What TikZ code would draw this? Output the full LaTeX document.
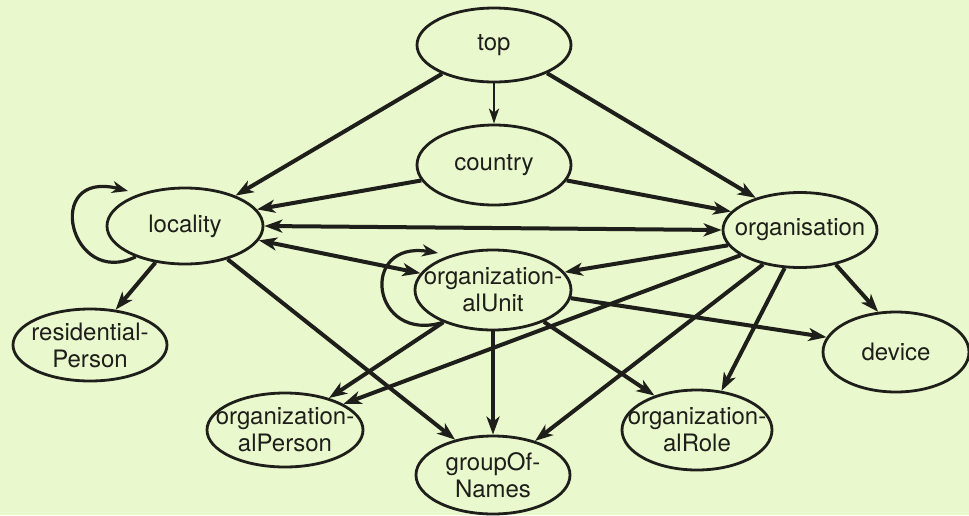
\documentclass[tikz,border=0pt]{standalone}
\usepackage{fontspec}
\setmainfont{TeX Gyre Heros}
\usetikzlibrary{shapes.geometric,arrows.meta,calc}
\definecolor{paper}{RGB}{234,248,205}
\definecolor{ink}{RGB}{30,30,26}
\tikzset{
  cls/.style n args={2}{ellipse, draw=ink, line width=2.8pt, inner sep=0pt,
    minimum width=#1, minimum height=#2},
  lbl/.style={font=\fontsize{24}{27}\selectfont, align=center, text=ink, inner sep=0pt},
  link/.style={draw=ink, line width=4pt, -{Stealth[length=18pt,width=13pt,inset=5pt]}},
  dlink/.style={draw=ink, line width=4pt,
    {Stealth[length=18pt,width=13pt,inset=5pt]}-{Stealth[length=18pt,width=13pt,inset=5pt]}},
  thinlink/.style={draw=ink, line width=2.6pt, -{Stealth[length=15pt,width=10pt,inset=4pt]}},
  looplink/.style={draw=ink, line width=3.2pt, -{Stealth[length=16pt,width=12pt,inset=5pt]}},
}
\begin{document}
\begin{tikzpicture}[x=1pt,y=-1pt]
\useasboundingbox (0,0) rectangle (969,515);
\fill[paper] (0,0) rectangle (969,515);

% object classes
\node[cls={154}{74}, label={[lbl]center:top}] (top) at (494,45) {};
\node[cls={154}{80}, label={[lbl]center:country}] (country) at (494,165) {};
\node[cls={156}{76}, label={[lbl]center:locality}] (locality) at (185,226) {};
\node[cls={154}{75}, label={[lbl]center:organisation}] (organisation) at (800,230) {};
\node[cls={156}{80}, label={[lbl]center:{organization-\\alUnit}}] (ou) at (493,290) {};
\node[cls={154}{72}, label={[lbl]center:{residential-\\Person}}] (resp) at (90,345) {};
\node[cls={146}{80}, label={[lbl]center:device}] (device) at (896,352) {};
\node[cls={156}{74}, label={[lbl]center:{organization-\\alPerson}}] (operson) at (285,430) {};
\node[cls={154}{78}, label={[lbl]center:{groupOf-\\Names}}] (gon) at (493,475) {};
\node[cls={150}{80}, label={[lbl]center:{organization-\\alRole}}] (orole) at (697,430) {};

% superior relations
\draw[link] (top.209) -- (locality.31);
\draw[thinlink] (top.south) -- (country.north);
\draw[link] (top.-28) -- (organisation.144);
\draw[link] (country.192) -- (locality.13);
\draw[link] (country.-12) -- (organisation.165);
\draw[dlink] (locality.east) -- (organisation.west);
\draw[dlink] (locality.-11) -- (ou.167);
\draw[looplink] (locality.212) .. controls +(-66,32) and +(-86,-22) .. ($(locality.center)+(-57,-35)$);
\draw[link] (locality.231) -- (resp.54);
\draw[link] (locality.-38) -- (gon.137);
\draw[link] (organisation.192) -- (ou.14);
\draw[link] (organisation.203) -- (operson.24);
\draw[link] (organisation.223) -- (gon.39);
\draw[link] (organisation.248) -- (orole.58);
\draw[link] (organisation.-44) -- (device.114);
\draw[looplink] (ou.213) .. controls +(-72,22) and +(-80,-13) .. ($(ou.center)+(-55,-37)$);
\draw[link] (ou.213) -- (operson.36);
\draw[link] (ou.south) -- (gon.north);
\draw[link] (ou.-32) -- (orole.141);
\draw[link] (ou.-6) -- (device.168);
\end{tikzpicture}
\end{document}
